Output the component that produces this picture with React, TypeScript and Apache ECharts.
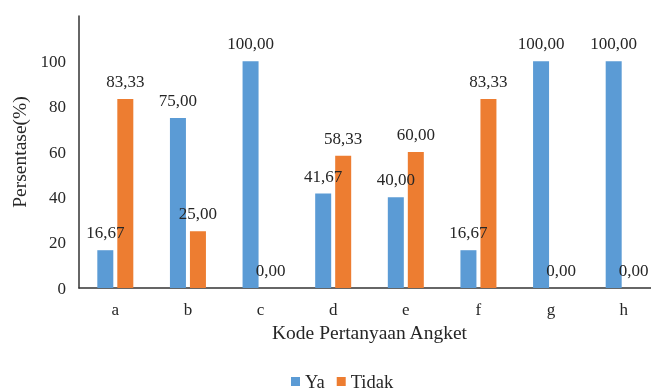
import React, { useEffect, useRef } from "react";
import * as echarts from "echarts";

const categories = ["a", "b", "c", "d", "e", "f", "g", "h"];
const yaValues = [16.67, 75.0, 100.0, 41.67, 40.0, 16.67, 100.0, 100.0];
const tidakValues = [83.33, 25.0, 0.0, 58.33, 60.0, 83.33, 0.0, 0.0];
const seriesNames = ["Ya", "Tidak"];
const yAxisName = "Persentase(%)";
const xAxisName = "Kode Pertanyaan Angket";

const FONT = "'Liberation Serif', 'Times New Roman', serif";
const TEXT = "#262626";

export default function App() {
  const ref = useRef<HTMLDivElement>(null);
  useEffect(() => {
    if (!ref.current) return;
    const chart = echarts.init(ref.current, undefined, { renderer: "svg" });
    const fmt = (p: any) => Number(p.value).toFixed(2).replace(".", ",");
    const label = {
      show: true,
      position: "top",
      distance: 9,
      formatter: fmt,
      fontFamily: FONT,
      fontSize: 17,
      color: TEXT,
    };
    chart.setOption({
      animation: false,
      textStyle: { fontFamily: FONT },
      grid: {
        left: 79,
        width: 581,
        top: 16,
        height: 272,
        containLabel: false,
        outerBoundsMode: "none",
      },
      legend: {
        bottom: -4,
        left: 286,
        itemWidth: 9,
        itemHeight: 9,
        itemGap: 12,
        icon: "rect",
        textStyle: { fontFamily: FONT, fontSize: 18.5, color: TEXT },
        data: seriesNames,
      },
      xAxis: {
        type: "category",
        data: categories,
        name: xAxisName,
        nameLocation: "middle",
        nameGap: 33,
        nameTextStyle: { fontFamily: FONT, fontSize: 19.5, color: TEXT },
        axisLine: { lineStyle: { color: "#333", width: 1.5 } },
        axisTick: { show: false },
        axisLabel: { fontFamily: FONT, fontSize: 17, color: TEXT, margin: 13 },
      },
      yAxis: {
        type: "value",
        min: 0,
        max: 120,
        interval: 20,
        name: yAxisName,
        nameLocation: "middle",
        nameGap: 37,
        nameTextStyle: { fontFamily: FONT, fontSize: 19.5, color: TEXT },
        axisLine: { show: true, lineStyle: { color: "#333", width: 1.5 } },
        axisTick: { show: false },
        splitLine: { show: false },
        axisLabel: {
          fontFamily: FONT,
          fontSize: 17,
          color: TEXT,
          margin: 13,
          showMaxLabel: false,
          formatter: (v: number) => (v > 100 ? "" : String(v)),
        },
      },
      series: [
        {
          name: seriesNames[0],
          type: "bar",
          data: yaValues,
          barWidth: 16,
          barGap: "25%",
          itemStyle: { color: "#5B9BD5" },
          label,
        },
        {
          name: seriesNames[1],
          type: "bar",
          data: tidakValues,
          barWidth: 16,
          itemStyle: { color: "#ED7D31" },
          label,
        },
      ],
    });
    return () => chart.dispose();
  }, []);
  return (
    <div
      ref={ref}
      style={{ position: "fixed", left: 0, top: 0, width: 651, height: 392 }}
    />
  );
}
